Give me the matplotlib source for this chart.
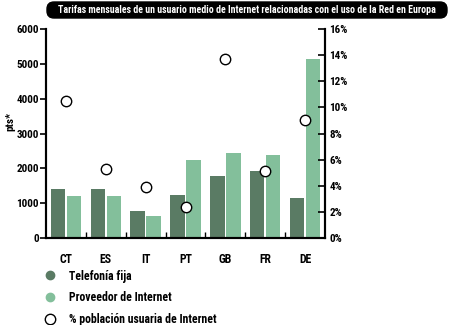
import matplotlib
matplotlib.use("Agg")
import matplotlib.pyplot as plt
from matplotlib import font_manager
from matplotlib.lines import Line2D
from matplotlib.patches import FancyBboxPatch
import numpy as np

# Pick a bold condensed sans for all text, falling back to DejaVu Sans
available = {f.name for f in font_manager.fontManager.ttflist}
condensed = next((n for n in ["Roboto Condensed", "Archivo Narrow", "Liberation Sans Narrow",
                              "PT Sans Narrow", "Barlow Condensed", "Open Sans Condensed",
                              "Pathway Gothic One", "Oswald"] if n in available), "DejaVu Sans")
plt.rcParams['font.family'] = [condensed, 'DejaVu Sans']

countries = ["CT", "ES", "IT", "PT", "GB", "FR", "DE"]
telefonia_fija = [1400, 1400, 780, 1230, 1780, 1925, 1140]
proveedor_internet = [1200, 1200, 630, 2250, 2430, 2375, 5150]
poblacion_pct = [10.5, 5.3, 3.9, 2.4, 13.7, 5.1, 9.0]

left_ticks = [0, 1000, 2000, 3000, 4000, 5000, 6000]
right_ticks = [0, 2, 4, 6, 8, 10, 12, 14, 16]

title = "Tarifas mensuales de un usuario medio de Internet relacionadas con el uso de la Red en Europa"
legend_labels = ["Telefonía fija", "Proveedor de Internet", "% población usuaria de Internet"]

dark = "#5a7b64"
light = "#83bf9b"

fig = plt.figure(figsize=(4.5, 3.25), dpi=100)
ax = fig.add_axes([46 / 450, 1 - 238 / 325, 279 / 450, 209 / 325])
ax2 = ax.twinx()

x = np.arange(len(countries))
w = 0.36
ax.bar(x - 0.2, telefonia_fija, width=w, color=dark, zorder=2)
ax.bar(x + 0.2, proveedor_internet, width=w, color=light, zorder=2)

ax.set_xlim(-0.5, len(countries) - 0.5)
ax.set_ylim(0, 6000)
ax.set_yticks(left_ticks)
ax.set_yticklabels([str(v) for v in left_ticks], fontsize=8, fontweight='bold')
ax.tick_params(axis='y', direction='out', length=4, width=1.2, pad=1)

ax.set_xticks(x)
ax.set_xticklabels(countries, fontsize=8.5, fontweight='bold')
ax.tick_params(axis='x', which='major', length=0, pad=11)
ax.set_xticks(np.arange(0.5, len(countries) - 0.5, 1), minor=True)
ax.tick_params(axis='x', which='minor', direction='in', length=4, width=1.0)

ax.set_ylabel("pts*", fontsize=8, fontweight='bold')
ax.yaxis.set_label_coords(-31 / 279, 0.56)

ax2.plot(x, poblacion_pct, linestyle='none', marker='o', markersize=7.5,
         markerfacecolor='white', markeredgecolor='black', markeredgewidth=1.0,
         zorder=3, clip_on=False)
ax2.set_ylim(0, 16)
ax2.set_yticks(right_ticks)
ax2.set_yticklabels([f"{v}%" for v in right_ticks], fontsize=8, fontweight='bold')
ax2.tick_params(axis='y', direction='in', length=5, width=1.2, pad=3)

for a in (ax, ax2):
    a.spines['top'].set_visible(False)
    for s in ('left', 'right', 'bottom'):
        a.spines[s].set_linewidth(1.5)
ax2.set_zorder(ax.get_zorder() + 1)
ax2.patch.set_visible(False)

# Title in a black pill-shaped box (coordinates in inches)
box = FancyBboxPatch((0.47, 3.07), 4.0, 0.16,
                     boxstyle="round,pad=0,rounding_size=0.07",
                     transform=fig.dpi_scale_trans, facecolor='black',
                     edgecolor='black')
fig.patches.append(box)
fig.text(247 / 450, 1 - 10 / 325, title, color='white', fontsize=7.1,
         fontweight='bold', ha='center', va='center')

# Legend rows below the chart
handles = [
    Line2D([], [], linestyle='none', marker='o', markersize=6,
           markerfacecolor=dark, markeredgecolor=dark),
    Line2D([], [], linestyle='none', marker='o', markersize=6,
           markerfacecolor=light, markeredgecolor=light),
    Line2D([], [], linestyle='none', marker='o', markersize=7.5,
           markerfacecolor='white', markeredgecolor='black', markeredgewidth=1.0),
]
leg = fig.legend(handles, legend_labels, loc='upper left',
                 bbox_to_anchor=(32 / 450, 1 - 259 / 325), frameon=False,
                 prop={'size': 8.5, 'weight': 'bold'}, labelspacing=0.75,
                 handletextpad=1.0, handlelength=1.2)

fig.savefig("out.png", dpi=100)
